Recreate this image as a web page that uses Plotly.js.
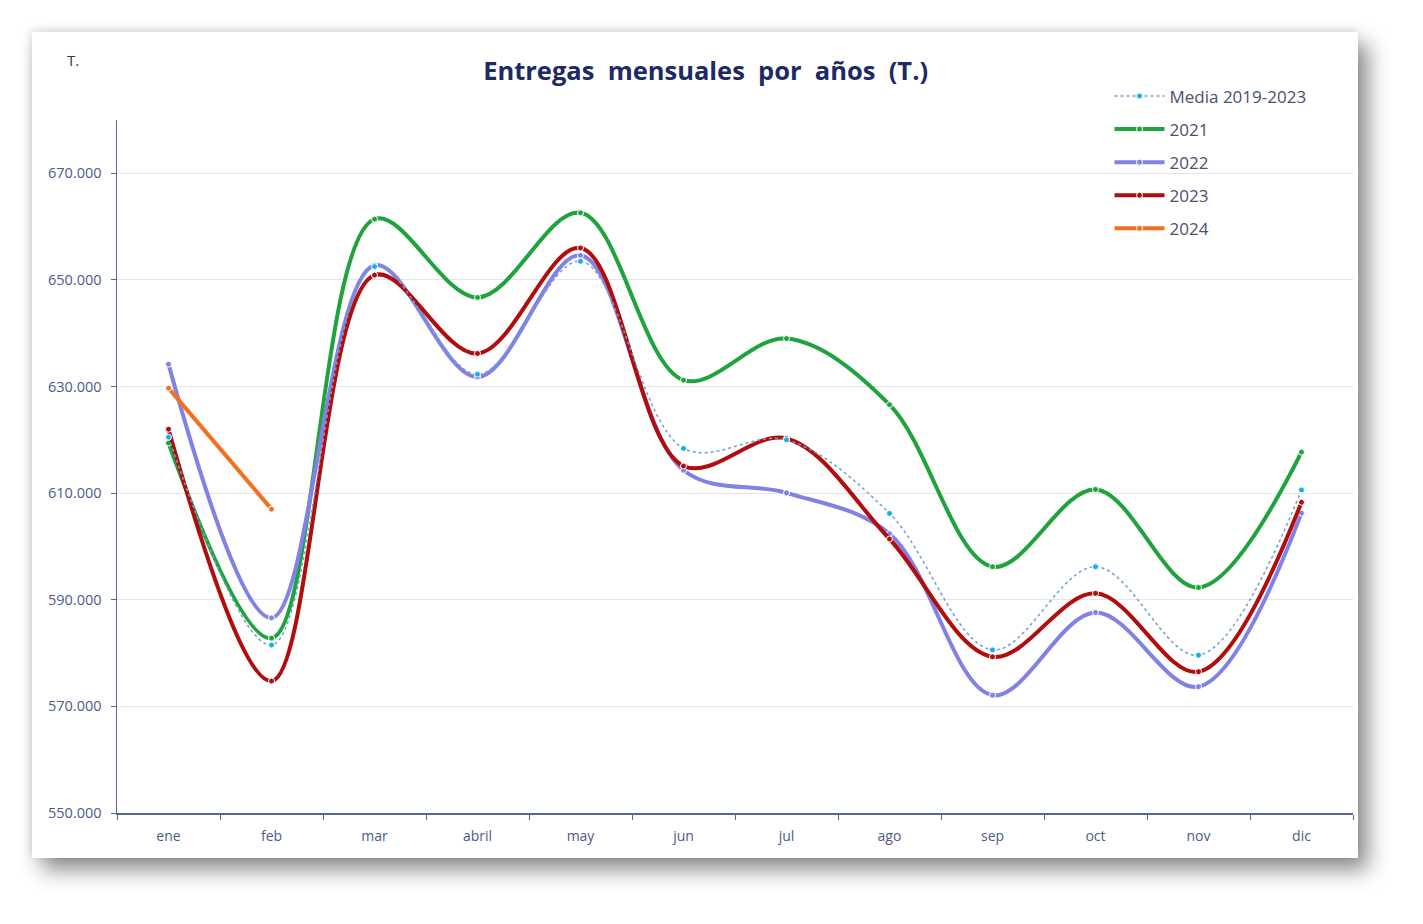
<!DOCTYPE html>
<html>
<head>
<meta charset="utf-8">
<script src="https://cdn.plot.ly/plotly-3.0.1.min.js"></script>
<style>
  html, body { margin: 0; padding: 0; background: #ffffff; width: 1423px; height: 924px; overflow: hidden; }
  #card { position: absolute; left: 32px; top: 32px; width: 1326px; height: 826px; background: #ffffff;
          box-shadow: 10px 12px 20px rgba(0,0,0,0.45), -2px -2px 8px rgba(0,0,0,0.12); }
  #chart { width: 1326px; height: 826px; }
</style>
</head>
<body>
<div id="card"><div id="chart"></div></div>
<script>
const months = ["ene","feb","mar","abril","may","jun","jul","ago","sep","oct","nov","dic"];
const media = [620500, 581500, 652500, 632300, 653500, 618400, 620000, 606200, 580600, 596200, 579600, 610600];
const y2021 = [619400, 582800, 661400, 646700, 662600, 631200, 639000, 626600, 596200, 610700, 592300, 617700];
const y2022 = [634200, 586600, 652750, 631800, 654600, 614300, 610050, 602400, 572100, 587600, 573700, 606250];
const y2023 = [622000, 574750, 650900, 636200, 656000, 615100, 620250, 601400, 579300, 591200, 576500, 608300];
const y2024 = [629700, 607000];
const yTicks = [550000, 570000, 590000, 610000, 630000, 650000, 670000];

function yearTrace(name, y, color, rank) {
  return {
    type: "scatter", mode: "lines+markers", name: name,
    x: months.slice(0, y.length), y: y,
    line: { color: color, width: 4, shape: "spline", smoothing: 1 },
    marker: { color: color, size: 6, line: { color: "#ffffff", width: 1 } },
    legendrank: rank, legendgroup: name
  };
}

const traces = [
  yearTrace("2021", y2021, "#1fa33c", 2),
  yearTrace("2022", y2022, "#8181e6", 3),
  yearTrace("2023", y2023, "#b10d0d", 4),
  yearTrace("2024", y2024, "#f2701f", 5),
  {
    type: "scatter", mode: "lines+markers", name: "Media 2019-2023",
    x: months, y: media,
    line: { color: "#6f9fcc", width: 1.5, dash: "dot", shape: "spline", smoothing: 1 },
    marker: { color: "#17aef0", size: 6, line: { color: "#ffffff", width: 1 } },
    legendrank: 1, legendgroup: "media"
  }
];

const layout = {
  width: 1326, height: 826,
  margin: { l: 85, r: 5, t: 88, b: 45 },
  paper_bgcolor: "#ffffff", plot_bgcolor: "#ffffff",
  separators: ",.",
  font: { family: "Open Sans, Noto Sans, sans-serif", color: "#4d5b8c" },
  title: {
    text: "<b>Entregas  mensuales  por  años  (T.)</b>",
    font: { family: "Open Sans, Noto Sans, sans-serif", size: 25.5, color: "#1c2a66" },
    xref: "container", yref: "container", x: 0.508, y: 0.953, xanchor: "center", yanchor: "middle"
  },
  showlegend: true,
  legend: {
    x: 0.803, y: 1.06, xanchor: "left", yanchor: "top",
    font: { size: 17, color: "#4a5070" },
    itemwidth: 50,
    tracegroupgap: 8, bgcolor: "rgba(0,0,0,0)"
  },
  xaxis: {
    type: "category", range: [-0.5, 11.5],
    showline: true, linecolor: "#5a6694", linewidth: 1.5,
    ticks: "outside", tickson: "boundaries", ticklen: 5, tickcolor: "#5a6694",
    showgrid: false, zeroline: false,
    tickfont: { size: 14, color: "#4d5b8c" }, ticklabelstandoff: 10
  },
  yaxis: {
    range: [550000, 680000], tickvals: yTicks, tickformat: ",d",
    showline: true, linecolor: "#5a6694", linewidth: 1.5,
    ticks: "outside", ticklen: 5, tickcolor: "#5a6694",
    showgrid: true, gridcolor: "#e4e4ea", gridwidth: 1, zeroline: false,
    tickfont: { size: 14.5, color: "#4d5b8c" }, ticklabelstandoff: 6
  },
  annotations: [
    { text: "T.", xref: "paper", yref: "paper", x: -0.0356, y: 1.087, xanchor: "center", yanchor: "middle",
      showarrow: false, font: { size: 15, color: "#333a55" } }
  ]
};

Plotly.newPlot("chart", traces, layout, { displayModeBar: false, staticPlot: true });
</script>
</body>
</html>
